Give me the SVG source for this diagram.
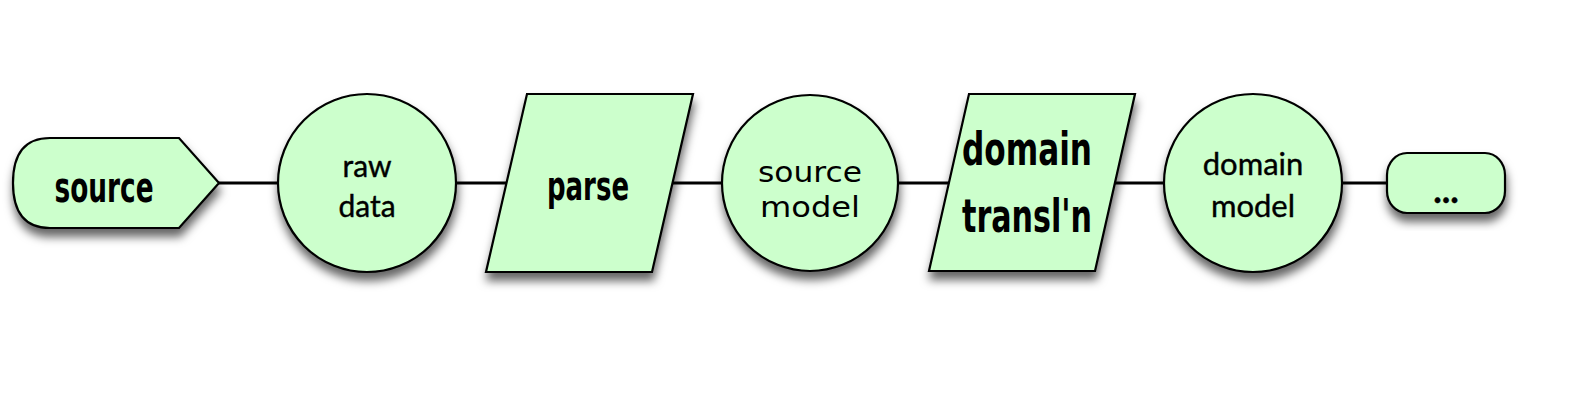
<svg xmlns="http://www.w3.org/2000/svg" width="1572" height="418" viewBox="0 0 1572 418">
  <defs>
    <filter id="shadow" x="-20%" y="-20%" width="140%" height="150%">
      <feDropShadow dx="1" dy="8" stdDeviation="5" flood-color="#000" flood-opacity="0.6"/>
    </filter>
    <style>
      .shape { fill: #ccffcc; stroke: #000; stroke-width: 2.2; filter: url(#shadow); }
      .conn { stroke: #000; stroke-width: 3; fill: none; }
      .bold { font-family: "DejaVu Sans Condensed", "DejaVu Sans", sans-serif; font-weight: bold; fill: #000; text-anchor: middle; }
      .gill { font-family: Lato, "Liberation Sans", sans-serif; fill: #000; stroke: #000; stroke-width: 0.4; text-anchor: middle; }
      .futura { font-family: "DejaVu Sans", sans-serif; fill: #000; text-anchor: middle; }
    </style>
  </defs>
  <rect width="1572" height="418" fill="#fff"/>
  <g id="connectors">
    <line class="conn" x1="218" y1="183" x2="280" y2="183"/>
    <line class="conn" x1="456" y1="183" x2="508" y2="183"/>
    <line class="conn" x1="671" y1="183" x2="723" y2="183"/>
    <line class="conn" x1="897" y1="183" x2="950" y2="183"/>
    <line class="conn" x1="1114" y1="183" x2="1166" y2="183"/>
    <line class="conn" x1="1340" y1="183" x2="1388" y2="183"/>
  </g>
  <g id="node-source">
    <path class="shape" d="M 50,138 L 179,138 L 219,183 L 179,228 L 50,228 Q 13,228 13,183 Q 13,138 50,138 Z"/>
    <text class="bold" x="104" y="202" font-size="42" textLength="99" lengthAdjust="spacingAndGlyphs">source</text>
  </g>
  <g id="node-raw-data">
    <circle class="shape" cx="367" cy="183" r="89"/>
    <text class="gill" x="367" y="177" font-size="30">raw</text>
    <text class="gill" x="367" y="217" font-size="30">data</text>
  </g>
  <g id="node-parse">
    <polygon class="shape" points="527,94 693,94 652,272 486,272"/>
    <text class="bold" x="588" y="200" font-size="40" textLength="82" lengthAdjust="spacingAndGlyphs">parse</text>
  </g>
  <g id="node-source-model">
    <circle class="shape" cx="810" cy="183" r="88"/>
    <text class="futura" x="810" y="182" font-size="29" textLength="104" lengthAdjust="spacingAndGlyphs">source</text>
    <text class="futura" x="810" y="217" font-size="29" textLength="100" lengthAdjust="spacingAndGlyphs">model</text>
  </g>
  <g id="node-domain-transl">
    <polygon class="shape" points="969,94 1135,94 1095,271 929,271"/>
    <text class="bold" x="1027" y="165" font-size="46" textLength="130" lengthAdjust="spacingAndGlyphs">domain</text>
    <text class="bold" x="1027" y="232" font-size="46" textLength="130" lengthAdjust="spacingAndGlyphs">transl'n</text>
  </g>
  <g id="node-domain-model">
    <circle class="shape" cx="1253" cy="183" r="89"/>
    <text class="gill" x="1253" y="175" font-size="31">domain</text>
    <text class="gill" x="1253" y="217" font-size="31">model</text>
  </g>
  <g id="node-more">
    <rect class="shape" x="1387" y="153" width="118" height="60" rx="20" ry="22"/>
    <text class="gill" x="1446" y="203" font-size="36" font-weight="bold">...</text>
  </g>
</svg>
